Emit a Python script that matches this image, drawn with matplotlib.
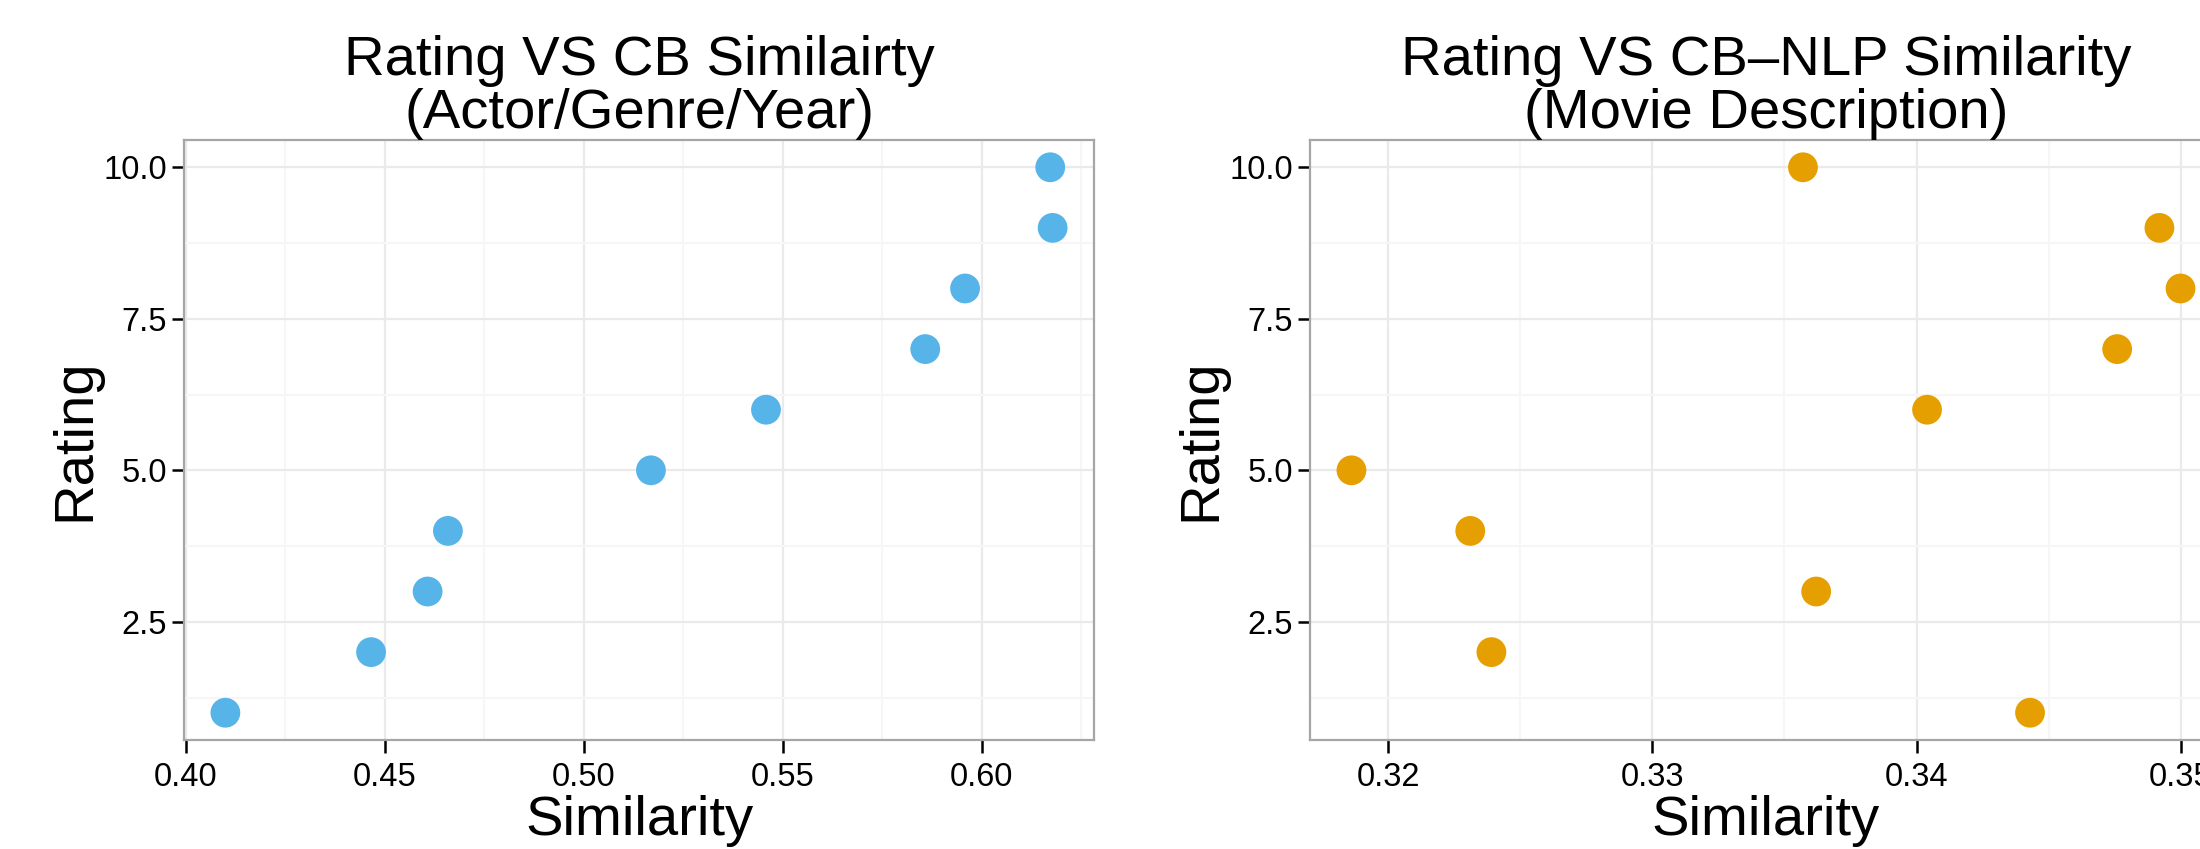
import numpy as np
import matplotlib
matplotlib.use("Agg")
import matplotlib.pyplot as plt
from matplotlib.ticker import MultipleLocator

plt.rcParams['font.family'] = ['Liberation Sans', 'DejaVu Sans']

# ratings 1..10
rating = [1, 2, 3, 4, 5, 6, 7, 8, 9, 10]

# content based similarity (actor / genre / year)
cb_sim = [0.4100, 0.4466, 0.4608, 0.4659, 0.5169, 0.5458, 0.5858, 0.5958, 0.6178, 0.6172]

# content based NLP similarity (movie description)
nlp_sim = [0.3443, 0.3239, 0.3362, 0.3231, 0.3186, 0.3404, 0.3476, 0.3500, 0.3492, 0.3357]

titles = ["Rating VS CB Similairty\n(Actor/Genre/Year)",
          "Rating VS CB\u2013NLP Similarity\n(Movie Description)"]
colors = ['#56B4E9', '#E69F00']
x_major = [0.05, 0.01]

W, H = 2200, 849
fig = plt.figure(figsize=(W / 100, H / 100), dpi=100)
fig.patch.set_facecolor('white')

# axes boxes in pixels: left, right, top, bottom
boxes = [(184, 1094, 140, 740), (1310, 2222, 140, 740)]


def style_axes(ax, major):
    ax.set_facecolor('white')
    for sp in ax.spines.values():
        sp.set_color('#A6A6A6')
        sp.set_linewidth(1.6)
    ax.xaxis.set_major_locator(MultipleLocator(major))
    ax.xaxis.set_minor_locator(MultipleLocator(major / 2))
    ax.yaxis.set_major_locator(MultipleLocator(2.5))
    ax.yaxis.set_minor_locator(MultipleLocator(1.25))
    ax.grid(which='major', color='#EAEAEA', linewidth=1.6)
    ax.grid(which='minor', color='#F6F6F6', linewidth=1.6)
    ax.set_axisbelow(True)
    ax.tick_params(which='major', length=9, width=1.8, color='black',
                   labelsize=23.5, labelcolor='black')
    ax.tick_params(axis='x', pad=7)
    ax.tick_params(axis='y', pad=3)
    ax.tick_params(which='minor', length=0)


datasets = [cb_sim, nlp_sim]
for i, (l, r, t, b) in enumerate(boxes):
    ax = fig.add_axes([l / W, (H - b) / H, (r - l) / W, (b - t) / H])
    x = datasets[i]
    ax.scatter(x, rating, s=460, color=colors[i], edgecolors='none', zorder=3)
    pad_x = (max(x) - min(x)) * 0.05
    ax.set_xlim(min(x) - pad_x, max(x) + pad_x)
    ax.set_ylim(1 - 0.45, 10 + 0.45)
    style_axes(ax, x_major[i])
    ax.set_yticks([2.5, 5.0, 7.5, 10.0])
    ax.set_yticklabels(['2.5', '5.0', '7.5', '10.0'])
    if i == 0:
        ax.set_xticks([0.40, 0.45, 0.50, 0.55, 0.60])
        ax.set_xticklabels(['0.40', '0.45', '0.50', '0.55', '0.60'])
    else:
        ax.set_xticks([0.32, 0.33, 0.34, 0.35])
        ax.set_xticklabels(['0.32', '0.33', '0.34', '0.35'])
    ax.set_xlabel('Similarity', fontsize=40.5, labelpad=1)
    ax.set_ylabel('Rating', fontsize=40.5, labelpad=2)
    ax.set_title(titles[i], fontsize=40.5, pad=9, linespacing=1.02)

fig.savefig('out.png', dpi=100, facecolor='white')
